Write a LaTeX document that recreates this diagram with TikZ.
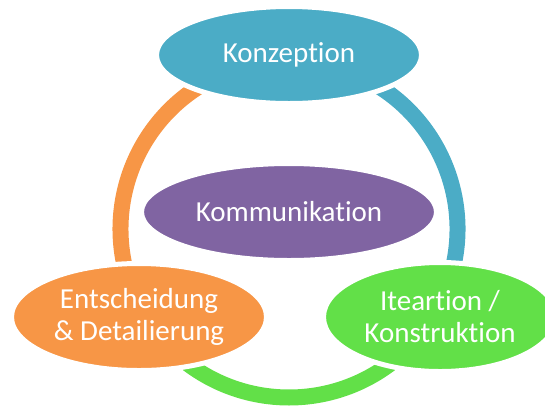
\documentclass[tikz,border=0pt]{standalone}
\usepackage{fontspec}
\setmainfont{Carlito}[Ligatures=NoCommon]
\usetikzlibrary{shapes.geometric}

\definecolor{konzblue}{HTML}{4BACC6}
\definecolor{kommpurple}{HTML}{8064A2}
\definecolor{entorange}{HTML}{F79646}
\definecolor{itergreen}{HTML}{62E048}

\tikzset{
  phase/.style={ellipse, inner sep=0pt, draw=white, line width=5pt,
    text=white, align=center, font=\fontsize{29}{32}\selectfont},
  ring/.style={line width=16pt}
}

\begin{document}
\begin{tikzpicture}[x=1pt, y=-1pt]
\useasboundingbox (0,0) rectangle (545,405);
% ring segments
\coordinate (hub) at (289,229);
\draw[ring, konzblue] (hub) ++(-62:168.5) arc[start angle=-62, end angle=18, radius=168.5];
\draw[ring, itergreen] (hub) ++(48:168.5) arc[start angle=48, end angle=132, radius=168.5];
\draw[ring, entorange] (hub) ++(162:168.5) arc[start angle=162, end angle=242, radius=168.5];

% phases
\node[phase, fill=konzblue, minimum width=265pt, minimum height=97pt] (konz) at (289,55) {Konzeption};
\node[phase, fill=kommpurple, minimum width=295pt, minimum height=97pt] (komm) at (289,212) {Kommunikation};
\node[phase, fill=entorange, minimum width=255pt, minimum height=107pt] (ent) at (139,317) {Entscheidung\\\& Detailierung};
\node[phase, fill=itergreen, minimum width=233pt, minimum height=109pt] (iter) at (440,317) {Iteartion /\\Konstruktion};
\end{tikzpicture}
\end{document}
